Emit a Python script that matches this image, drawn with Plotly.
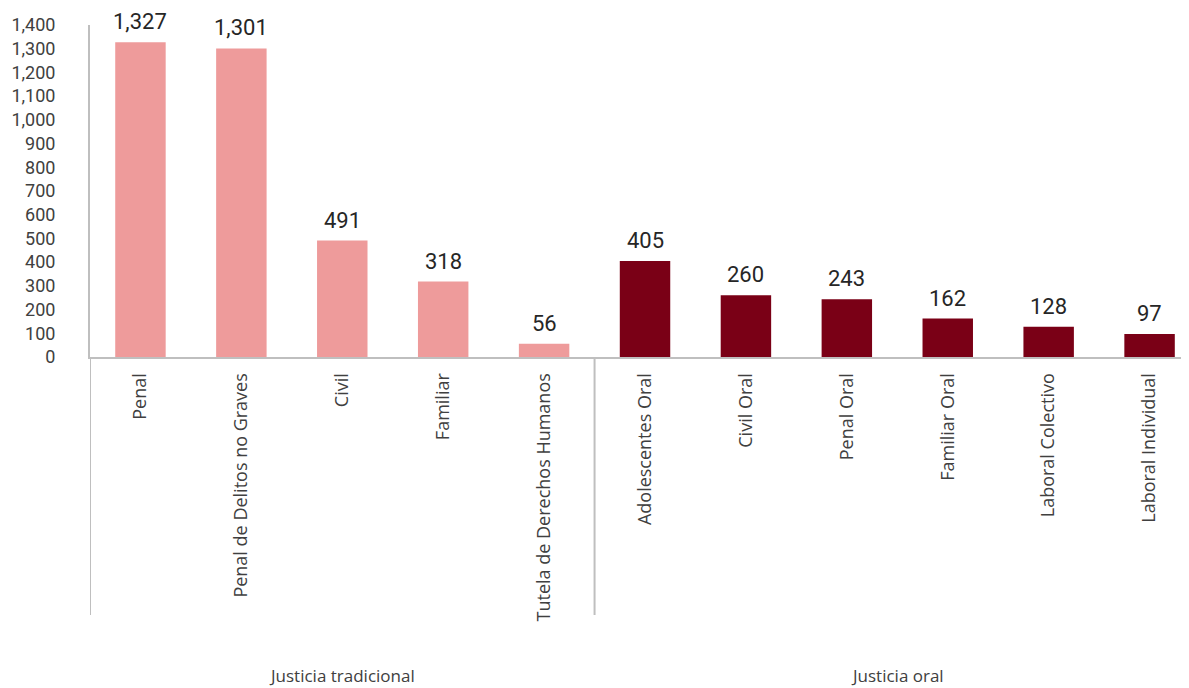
import plotly.graph_objects as go

group_names = ["Justicia tradicional", "Justicia oral"]
group_sizes = [5, 6]
categories = ["Penal", "Penal de Delitos no Graves", "Civil", "Familiar",
              "Tutela de Derechos Humanos", "Adolescentes Oral", "Civil Oral",
              "Penal Oral", "Familiar Oral", "Laboral Colectivo", "Laboral Individual"]
values = [1327, 1301, 491, 318, 56, 405, 260, 243, 162, 128, 97]
group_colors = ["#EE9B9B", "#7A0016"]
y_ticks = list(range(0, 1401, 100))

num_font = "Liberation Sans Narrow, Roboto, sans-serif"
lab_font = "Open Sans, sans-serif"
line_col = "#BFBFBF"

colors = []
for c, n in zip(group_colors, group_sizes):
    colors += [c] * n

fig = go.Figure(go.Bar(
    x=categories,
    y=values,
    marker=dict(color=colors, line=dict(width=0)),
    hovertemplate="%{x}: %{y:,}<extra></extra>",
))

# value labels
for cat, v in zip(categories, values):
    fig.add_annotation(x=cat, xref="x", y=v, yref="y", text=f"{v:,}",
                       showarrow=False, yanchor="bottom", yshift=6,
                       font=dict(family=num_font, size=22, color="#262626"))

# group dividers and labels
start = 0
bounds = [-0.5]
for name, n in zip(group_names, group_sizes):
    mid = start + (n - 1) / 2
    fig.add_annotation(x=mid, xref="x", y=-0.958, yref="paper", text=name,
                       showarrow=False, yanchor="middle",
                       font=dict(family=lab_font, size=17, color="#404040"))
    start += n
    bounds.append(start - 0.5)
for b in bounds[:-1]:
    fig.add_shape(type="line", xref="x", yref="paper", x0=b, x1=b, y0=0, y1=-0.777,
                  line=dict(color=line_col, width=2))

fig.update_layout(
    width=1189, height=688,
    margin=dict(l=82, r=0, t=17, b=339),
    plot_bgcolor="white", paper_bgcolor="white",
    bargap=0.5,
    showlegend=False,
    font=dict(family=lab_font, color="#404040"),
)
fig.update_yaxes(
    range=[0, 1400], tickvals=y_ticks, tickformat=",",
    showgrid=False, zeroline=False, automargin=False,
    showline=True, linecolor=line_col, linewidth=2,
    ticks="", ticklabelstandoff=29,
    tickfont=dict(family=num_font, size=18, color="#404040"),
)
fig.update_xaxes(
    type="category", range=[-0.5, 10.47], automargin=False,
    showline=True, linecolor=line_col, linewidth=2,
    tickangle=-90, ticks="", ticklabelstandoff=7,
    tickfont=dict(family=lab_font, size=18, color="#404040"),
)

fig.write_html("out.html")
